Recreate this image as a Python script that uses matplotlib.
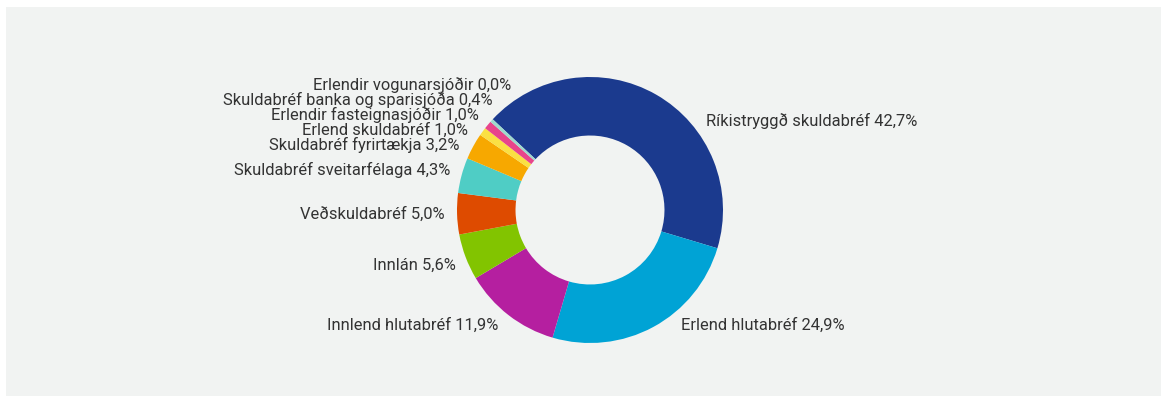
import numpy as np
import matplotlib.pyplot as plt
from matplotlib.patches import Rectangle

labels = ['Ríkistryggð skuldabréf', 'Erlend hlutabréf', 'Innlend hlutabréf', 'Innlán',
          'Veðskuldabréf', 'Skuldabréf sveitarfélaga', 'Skuldabréf fyrirtækja',
          'Erlend skuldabréf', 'Erlendir fasteignasjóðir',
          'Skuldabréf banka og sparisjóða', 'Erlendir vogunarsjóðir']
shares = [42.7, 24.9, 11.9, 5.6, 5.0, 4.3, 3.2, 1.0, 1.0, 0.4, 0.0]
colors = ['#1b3a8e', '#00a3d5', '#b51fa0', '#82c400', '#de4b00', '#4fcdc5',
          '#f7a800', '#fae043', '#e8448b', '#9ed9cc', '#8a8a8a']

W, H = 1167, 403
fig = plt.figure(figsize=(W / 100, H / 100), dpi=100)
fig.patch.set_facecolor('white')
fig.patches.append(Rectangle((6 / W, 7 / H), 1155 / W, 389 / H, transform=fig.transFigure,
                             facecolor='#f1f3f2', edgecolor='none', zorder=-10))

# pie centre (590, 210) px from top, radius 133 px
cx, cy, R = 590, H - 210, 133
ax = fig.add_axes([(cx - R) / W, (cy - R) / H, 2 * R / W, 2 * R / H])
start = 137
wedges, _ = ax.pie(shares, colors=colors, startangle=start, counterclock=False,
                   radius=1, wedgeprops=dict(width=0.44, edgecolor='none'))
ax.set_xlim(-1, 1)
ax.set_ylim(-1, 1)
ax.set_aspect('equal')
ax.axis('off')

# label layout, roughly like a highcharts pie
rl_y = 155 / R
rl_x = 150 / R
gap = 14.8 / R
top = {1: 0.67, -1: 1.2}
bottom = -0.865


def spread(targets):
    groups = []
    for i, t in enumerate(targets):
        groups.append([i, 1, t])
        while len(groups) > 1:
            a, b = groups[-2], groups[-1]
            if a[2] + a[1] * gap > b[2]:
                n = a[1] + b[1]
                m = np.mean(targets[a[0]:a[0] + n])
                groups[-2:] = [[a[0], n, m - (n - 1) * gap / 2]]
            else:
                break
    out = []
    for s, n, p in groups:
        out += [p + k * gap for k in range(n)]
    return out


mids = []
for w in wedges:
    mids.append(np.deg2rad((w.theta1 + w.theta2) / 2))

for side in (1, -1):
    idx = [i for i, a in enumerate(mids) if np.sign(np.cos(a)) == side]
    idx.sort(key=lambda i: -np.sin(mids[i]))
    nat = [-np.clip(rl_y * np.sin(mids[i]), bottom, top[side]) for i in idx]
    placed = spread(nat)
    for i, d in zip(idx, placed):
        y = -d
        x = side * (np.sqrt(max(rl_x ** 2 - y ** 2, 0)) - 5 / R)
        ax.text(x, y, f'{labels[i]} {shares[i]:.1f}%'.replace('.', ','),
                ha='left' if side > 0 else 'right', va='center',
                fontsize=11.9, family=['Roboto', 'DejaVu Sans'], color='#333333',
                clip_on=False)

fig.savefig('out.png', dpi=100, facecolor=fig.get_facecolor())
